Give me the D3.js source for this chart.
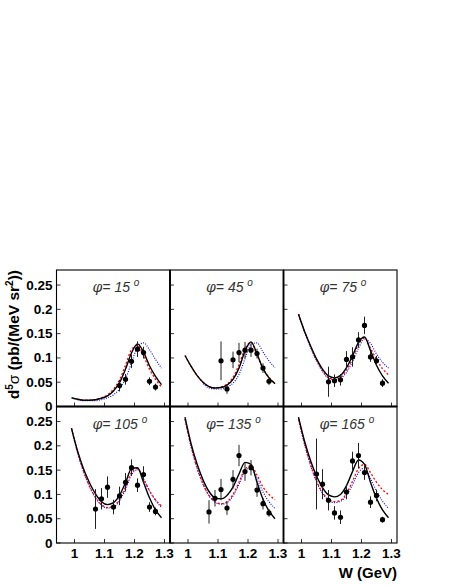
<!DOCTYPE html>
<html>
<head>
<meta charset="utf-8">
<script src="https://cdn.jsdelivr.net/npm/d3@7"></script>
<style>
  body { margin: 0; background: #fff; }
  svg { display: block; }
  .tick-label { font-family: 'Liberation Sans', Arial, sans-serif; font-weight: bold; font-size: 13.5px; }
  .title { font-family: 'Liberation Sans', Arial, sans-serif; font-style: italic; font-weight: normal; font-size: 14px; fill: #333; }
</style>
</head>
<body>
<div id="target"></div>
<script>
const width = 452;
const height = 585;

// phi angle of each panel
const phiAngles = [15, 45, 75, 105, 135, 165];

// W grid of the model curves
const curveW = [0.99, 1.01, 1.03, 1.05, 1.07, 1.09, 1.11, 1.13, 1.15, 1.17, 1.19, 1.21, 1.23, 1.25, 1.27, 1.29];

// model curves, one array per panel (solid black, dashed red, dotted blue)
const blackCurves = [
  [0.018, 0.015, 0.013, 0.013, 0.014, 0.017, 0.022, 0.032, 0.049, 0.077, 0.110, 0.129, 0.112, 0.084, 0.062, 0.045],
  [0.105, 0.083, 0.064, 0.050, 0.041, 0.038, 0.039, 0.044, 0.056, 0.079, 0.114, 0.133, 0.108, 0.078, 0.059, 0.047],
  [0.190, 0.155, 0.125, 0.098, 0.077, 0.063, 0.059, 0.064, 0.080, 0.104, 0.132, 0.143, 0.115, 0.085, 0.063, 0.048],
  [0.236, 0.190, 0.153, 0.124, 0.101, 0.085, 0.079, 0.083, 0.098, 0.124, 0.153, 0.155, 0.125, 0.093, 0.068, 0.052],
  [0.259, 0.205, 0.163, 0.130, 0.106, 0.093, 0.091, 0.098, 0.115, 0.142, 0.166, 0.162, 0.125, 0.090, 0.066, 0.050],
  [0.259, 0.210, 0.170, 0.138, 0.114, 0.099, 0.095, 0.100, 0.118, 0.147, 0.171, 0.162, 0.125, 0.092, 0.068, 0.052],
];
const redCurves = [
  [null, 0.015, 0.013, 0.013, 0.014, 0.018, 0.024, 0.036, 0.055, 0.085, 0.117, 0.126, 0.104, 0.077, 0.056, 0.040],
  [0.105, 0.083, 0.064, 0.050, 0.041, 0.038, 0.040, 0.046, 0.060, 0.086, 0.119, 0.132, 0.106, 0.078, 0.060, 0.048],
  [0.190, 0.155, 0.124, 0.096, 0.074, 0.060, 0.056, 0.060, 0.075, 0.099, 0.128, 0.141, 0.120, 0.097, 0.078, 0.065],
  [0.236, 0.187, 0.148, 0.117, 0.094, 0.079, 0.073, 0.076, 0.090, 0.115, 0.145, 0.153, 0.132, 0.108, 0.089, 0.076],
  [0.255, 0.200, 0.155, 0.122, 0.098, 0.085, 0.081, 0.085, 0.100, 0.125, 0.152, 0.159, 0.140, 0.115, 0.100, 0.089],
  [0.255, 0.205, 0.162, 0.128, 0.104, 0.090, 0.085, 0.088, 0.102, 0.127, 0.153, 0.162, 0.145, 0.125, 0.110, 0.100],
];
const blueCurves = [
  [null, 0.014, 0.012, 0.012, 0.012, 0.014, 0.018, 0.024, 0.036, 0.057, 0.090, 0.122, 0.131, 0.117, 0.097, 0.079],
  [null, null, null, 0.047, 0.038, 0.036, 0.036, 0.040, 0.048, 0.066, 0.098, 0.128, 0.131, 0.112, 0.094, 0.080],
  [0.190, 0.154, 0.122, 0.094, 0.072, 0.058, 0.055, 0.058, 0.070, 0.092, 0.120, 0.139, 0.130, 0.108, 0.091, 0.079],
  [0.236, 0.186, 0.147, 0.116, 0.093, 0.078, 0.072, 0.074, 0.087, 0.110, 0.140, 0.151, 0.132, 0.107, 0.088, 0.073],
  [0.255, 0.199, 0.154, 0.121, 0.097, 0.084, 0.080, 0.083, 0.097, 0.121, 0.148, 0.155, 0.132, 0.105, 0.085, 0.071],
  [0.255, 0.203, 0.160, 0.126, 0.102, 0.088, 0.083, 0.086, 0.098, 0.120, 0.145, 0.154, 0.133, 0.107, 0.086, 0.071],
];

// measured points
const pointW = [
  [1.15, 1.17, 1.19, 1.21, 1.23, 1.25, 1.27],
  [1.11, 1.13, 1.15, 1.17, 1.19, 1.21, 1.23, 1.25, 1.27],
  [1.09, 1.11, 1.13, 1.15, 1.17, 1.19, 1.21, 1.23, 1.25, 1.27],
  [1.07, 1.09, 1.11, 1.13, 1.15, 1.17, 1.19, 1.21, 1.23, 1.25, 1.27],
  [1.07, 1.09, 1.11, 1.13, 1.15, 1.17, 1.19, 1.21, 1.23, 1.25, 1.27],
  [1.05, 1.07, 1.09, 1.11, 1.13, 1.15, 1.17, 1.19, 1.21, 1.23, 1.25, 1.27],
];
const pointValue = [
  [0.043, 0.056, 0.093, 0.118, 0.111, 0.052, 0.040],
  [0.094, 0.036, 0.096, 0.111, 0.116, 0.116, 0.109, 0.079, 0.052],
  [0.051, 0.053, 0.055, 0.097, 0.102, 0.137, 0.167, 0.102, 0.094, 0.048],
  [0.070, 0.091, 0.115, 0.074, 0.097, 0.125, 0.155, 0.119, 0.141, 0.074, 0.065],
  [0.064, 0.092, 0.110, 0.072, 0.131, 0.180, 0.147, 0.155, 0.109, 0.081, 0.062],
  [0.142, 0.121, 0.088, 0.062, 0.053, 0.105, 0.169, 0.180, 0.145, 0.084, 0.098, 0.048],
];
const pointError = [
  [0.012, 0.011, 0.014, 0.016, 0.012, 0.008, 0.007],
  [0.040, 0.010, 0.017, 0.020, 0.017, 0.014, 0.010, 0.010, 0.008],
  [0.031, 0.013, 0.012, 0.017, 0.020, 0.016, 0.018, 0.010, 0.010, 0.008],
  [0.041, 0.022, 0.022, 0.015, 0.019, 0.019, 0.017, 0.014, 0.017, 0.010, 0.008],
  [0.024, 0.017, 0.022, 0.014, 0.019, 0.022, 0.019, 0.016, 0.014, 0.012, 0.008],
  [0.073, 0.031, 0.021, 0.014, 0.014, 0.015, 0.019, 0.026, 0.015, 0.012, 0.012, 0.006],
];

// axis ticks
const xTicks = [1, 1.1, 1.2, 1.3];
const xTickLabels = ['1', '1.1', '1.2', '1.3'];
const yTicks = [0, 0.05, 0.1, 0.15, 0.2, 0.25];
const yTickLabels = ['0', '0.05', '0.1', '0.15', '0.2', '0.25'];

const plotLeft = 56.5;
const plotTop = 270;
const panelW = 113.5;
const panelH = 136.5;

const x = d3.scaleLinear().domain([0.94, 0.94 + panelW / 300]).range([0, panelW]);
const y = d3.scaleLinear().domain([0, 0.281]).range([panelH, 0]);

const svg = d3.select('#target').append('svg').attr('width', width).attr('height', height);

const line = d3
  .line()
  .defined((d) => d[1] !== null)
  .x((d) => x(d[0]))
  .y((d) => y(d[1]))
  .curve(d3.curveMonotoneX);

phiAngles.forEach((phi, i) => {
  const col = i % 3;
  const row = Math.floor(i / 3);
  const g = svg.append('g').attr('transform', `translate(${plotLeft + col * panelW},${plotTop + row * panelH})`);

  // ticks
  g.selectAll('.xtick')
    .data(xTicks)
    .enter()
    .append('line')
    .attr('x1', (d) => x(d))
    .attr('x2', (d) => x(d))
    .attr('y1', panelH)
    .attr('y2', panelH - 4)
    .attr('stroke', '#000')
    .attr('stroke-width', 0.8);

  g.selectAll('.ytick')
    .data(yTicks)
    .enter()
    .append('line')
    .attr('x1', 0)
    .attr('x2', 4)
    .attr('y1', (d) => y(d))
    .attr('y2', (d) => y(d))
    .attr('stroke', '#000')
    .attr('stroke-width', 0.8);

  // curves: blue dotted, red dashed, black solid on top
  const curves = [
    { vals: blueCurves[i], color: '#0000ff', dash: '1,1.4', w: 1.1 },
    { vals: redCurves[i], color: '#ff0000', dash: '2,2', w: 1.3 },
    { vals: blackCurves[i], color: '#000', dash: null, w: 1.4 },
  ];
  curves.forEach((c) => {
    g.append('path')
      .datum(curveW.map((w, k) => [w, c.vals[k]]))
      .attr('d', line)
      .attr('fill', 'none')
      .attr('stroke', c.color)
      .attr('stroke-width', c.w)
      .attr('stroke-dasharray', c.dash);
  });

  const pts = pointW[i].map((w, k) => ({ w: w, v: pointValue[i][k], e: pointError[i][k] }));

  g.selectAll('.err')
    .data(pts)
    .enter()
    .append('line')
    .attr('x1', (d) => x(d.w))
    .attr('x2', (d) => x(d.w))
    .attr('y1', (d) => y(d.v - d.e))
    .attr('y2', (d) => y(d.v + d.e))
    .attr('stroke', '#222')
    .attr('stroke-width', 1);

  g.selectAll('.pt')
    .data(pts)
    .enter()
    .append('circle')
    .attr('cx', (d) => x(d.w))
    .attr('cy', (d) => y(d.v))
    .attr('r', 2.6)
    .attr('fill', '#000');

  // panel title
  const t = g.append('text').attr('class', 'title').attr('x', 36).attr('y', 22);
  t.append('tspan').attr('font-family', 'DejaVu Serif, serif').text('φ');
  t.append('tspan').text('= ' + phi + ' ');
  t.append('tspan').attr('font-size', '10px').attr('dy', -6).text('o');

  // frame
  g.append('rect')
    .attr('width', panelW)
    .attr('height', panelH)
    .attr('fill', 'none')
    .attr('stroke', '#000')
    .attr('stroke-width', 1.1);

  // x labels on the bottom row
  if (row === 1) {
    g.selectAll('.xl')
      .data(xTicks)
      .enter()
      .append('text')
      .attr('class', 'tick-label')
      .attr('x', (d) => x(d))
      .attr('y', panelH + 15)
      .attr('text-anchor', 'middle')
      .text((d, k) => xTickLabels[k]);
  }

  // y labels on the left column
  if (col === 0) {
    g.selectAll('.yl')
      .data(yTicks)
      .enter()
      .append('text')
      .attr('class', 'tick-label')
      .attr('x', -4)
      .attr('y', (d) => y(d) + 4.5)
      .attr('text-anchor', 'end')
      .text((d, k) => yTickLabels[k]);
  }
});

// thicker dividers between panels
[1, 2].forEach((c) => {
  svg.append('line')
    .attr('x1', plotLeft + c * panelW)
    .attr('x2', plotLeft + c * panelW)
    .attr('y1', plotTop)
    .attr('y2', plotTop + 2 * panelH)
    .attr('stroke', '#000')
    .attr('stroke-width', 1.8);
});
svg.append('line')
  .attr('x1', plotLeft)
  .attr('x2', plotLeft + 3 * panelW)
  .attr('y1', plotTop + panelH)
  .attr('y2', plotTop + panelH)
  .attr('stroke', '#000')
  .attr('stroke-width', 1.8);

// axis titles
const yt = svg
  .append('text')
  .attr('transform', `translate(19,${plotTop})rotate(-90)`)
  .attr('text-anchor', 'end')
  .attr('font-family', 'Liberation Sans, Arial, sans-serif')
  .attr('font-weight', 'bold')
  .attr('font-size', '15.5px');
yt.append('tspan').text('d');
yt.append('tspan').attr('font-size', '10px').attr('dy', -6).text('5');
yt.append('tspan').attr('dy', 6).attr('font-weight', 'normal').text('σ');
yt.append('tspan').text(' (pb/(MeV sr');
yt.append('tspan').attr('font-size', '10px').attr('dy', -6).text('2');
yt.append('tspan').attr('dy', 6).text('))');

svg
  .append('text')
  .attr('x', plotLeft + 3 * panelW)
  .attr('y', 578)
  .attr('text-anchor', 'end')
  .attr('font-family', 'Liberation Sans, Arial, sans-serif')
  .attr('font-weight', 'bold')
  .attr('font-size', '15px')
  .text('W (GeV)');
</script>
</body>
</html>
